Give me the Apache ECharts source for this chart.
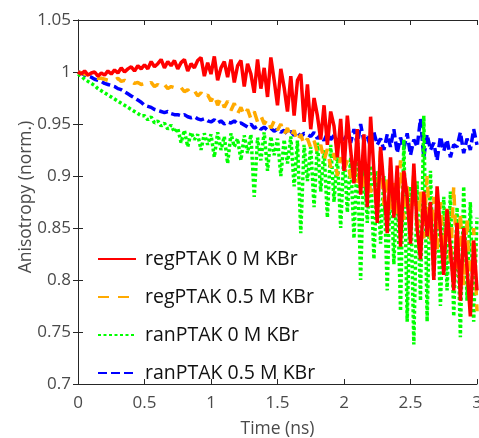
<!DOCTYPE html>
<html>
<head>
<meta charset="utf-8">
<script src="https://cdn.jsdelivr.net/npm/echarts@6/dist/echarts.min.js"></script>
<style>
html,body{margin:0;padding:0;background:#fff;}
#chart{width:479px;height:438px;}
</style>
</head>
<body>
<div id="chart"></div>
<script>
// Time axis (ns)
const time = [
0.000,0.025,0.050,0.075,0.100,0.125,0.150,0.175,0.200,0.225,
0.250,0.275,0.300,0.325,0.350,0.375,0.400,0.425,0.450,0.475,
0.500,0.525,0.550,0.575,0.600,0.625,0.650,0.675,0.700,0.725,
0.750,0.775,0.800,0.825,0.850,0.875,0.900,0.925,0.950,0.975,
1.000,1.025,1.050,1.075,1.100,1.125,1.150,1.175,1.200,1.225,
1.250,1.275,1.300,1.325,1.350,1.375,1.400,1.425,1.450,1.475,
1.500,1.525,1.550,1.575,1.600,1.625,1.650,1.675,1.700,1.725,
1.750,1.775,1.800,1.825,1.850,1.875,1.900,1.925,1.950,1.975,
2.000,2.025,2.050,2.075,2.100,2.125,2.150,2.175,2.200,2.225,
2.250,2.275,2.300,2.325,2.350,2.375,2.400,2.425,2.450,2.475,
2.500,2.525,2.550,2.575,2.600,2.625,2.650,2.675,2.700,2.725,
2.750,2.775,2.800,2.825,2.850,2.875,2.900,2.925,2.950,2.975,
3.000];

// regPTAK 0 M KBr
const regPTAK_0M = [
1.000,0.998,1.001,0.997,0.999,1.000,0.996,0.999,0.997,1.001,
0.998,1.002,0.999,1.004,1.000,1.003,1.005,1.001,1.006,1.003,
1.007,1.003,1.010,1.005,1.008,1.012,1.004,1.010,1.006,1.011,
1.003,1.009,1.012,1.001,1.008,1.004,1.011,1.014,0.996,1.009,
0.998,1.015,0.992,1.004,1.010,0.995,1.012,0.990,1.006,1.011,
0.986,1.008,0.998,0.980,1.012,0.984,1.004,0.976,1.014,0.992,
0.968,1.003,0.985,0.962,0.996,0.958,0.992,0.998,0.952,0.988,
0.945,0.975,0.958,0.935,0.968,0.930,0.962,0.948,0.918,0.955,
0.905,0.958,0.925,0.893,0.945,0.882,0.940,0.870,0.957,0.905,
0.855,0.928,0.890,0.845,0.918,0.860,0.910,0.832,0.905,0.880,
0.835,0.912,0.850,0.820,0.885,0.842,0.875,0.800,0.890,0.848,
0.805,0.868,0.830,0.790,0.855,0.780,0.850,0.812,0.765,0.838,
0.790];

// regPTAK 0.5 M KBr
const regPTAK_05M = [
1.000,0.999,0.998,0.997,0.996,0.995,0.994,0.994,0.993,0.992,
0.993,0.992,0.994,0.991,0.992,0.990,0.991,0.989,0.990,0.988,
0.989,0.987,0.990,0.986,0.988,0.985,0.988,0.984,0.986,0.985,
0.983,0.985,0.981,0.983,0.979,0.982,0.977,0.980,0.975,0.978,
0.972,0.978,0.968,0.975,0.966,0.972,0.963,0.970,0.960,0.966,
0.958,0.964,0.955,0.962,0.952,0.958,0.950,0.955,0.946,0.953,
0.944,0.950,0.940,0.946,0.937,0.944,0.933,0.940,0.930,0.936,
0.927,0.934,0.922,0.930,0.915,0.926,0.908,0.922,0.900,0.918,
0.905,0.915,0.898,0.910,0.893,0.906,0.888,0.912,0.884,0.900,
0.880,0.925,0.872,0.900,0.868,0.895,0.862,0.915,0.858,0.890,
0.852,0.905,0.845,0.885,0.840,0.900,0.835,0.880,0.828,0.875,
0.822,0.872,0.815,0.890,0.808,0.865,0.795,0.860,0.775,0.850,
0.770];

// ranPTAK 0 M KBr
const ranPTAK_0M = [
0.998,0.996,0.993,0.991,0.989,0.987,0.984,0.982,0.980,0.978,
0.976,0.974,0.972,0.970,0.968,0.966,0.964,0.962,0.960,0.958,
0.958,0.954,0.957,0.951,0.953,0.948,0.951,0.945,0.949,0.942,
0.946,0.932,0.944,0.928,0.942,0.935,0.940,0.925,0.941,0.930,
0.940,0.918,0.942,0.925,0.938,0.912,0.941,0.928,0.936,0.915,
0.939,0.922,0.940,0.880,0.937,0.915,0.942,0.905,0.938,0.920,
0.936,0.900,0.935,0.912,0.938,0.890,0.934,0.845,0.930,0.895,
0.928,0.870,0.932,0.885,0.925,0.860,0.930,0.875,0.920,0.850,
0.925,0.865,0.918,0.840,0.922,0.800,0.915,0.855,0.910,0.820,
0.905,0.835,0.900,0.790,0.910,0.815,0.895,0.770,0.935,0.760,
0.890,0.738,0.895,0.780,0.958,0.760,0.905,0.800,0.880,0.775,
0.880,0.790,0.885,0.765,0.870,0.745,0.890,0.780,0.875,0.760,
0.860];

// ranPTAK 0.5 M KBr
const ranPTAK_05M = [
1.000,0.999,0.997,0.996,0.995,0.993,0.992,0.991,0.989,0.988,
0.987,0.986,0.984,0.983,0.981,0.979,0.977,0.975,0.973,0.971,
0.968,0.967,0.966,0.964,0.963,0.962,0.961,0.962,0.960,0.959,
0.959,0.958,0.959,0.957,0.956,0.957,0.955,0.954,0.955,0.953,
0.952,0.954,0.951,0.953,0.950,0.952,0.951,0.953,0.950,0.951,
0.949,0.947,0.950,0.946,0.948,0.945,0.947,0.944,0.946,0.943,
0.945,0.942,0.944,0.940,0.943,0.939,0.942,0.938,0.941,0.940,
0.938,0.942,0.936,0.940,0.934,0.941,0.935,0.939,0.933,0.938,
0.935,0.940,0.932,0.945,0.930,0.950,0.933,0.938,0.928,0.942,
0.930,0.936,0.925,0.940,0.928,0.945,0.922,0.937,0.926,0.941,
0.920,0.935,0.928,0.955,0.918,0.940,0.925,0.932,0.915,0.938,
0.924,0.935,0.918,0.930,0.928,0.942,0.922,0.936,0.925,0.945,
0.930];

const xTicks = [0, 0.5, 1, 1.5, 2, 2.5, 3];
const yTicks = [0.7, 0.75, 0.8, 0.85, 0.9, 0.95, 1, 1.05];

const seriesNames = ['regPTAK 0 M KBr','regPTAK 0.5 M KBr','ranPTAK 0 M KBr','ranPTAK 0.5 M KBr'];

function pairs(vals){ return vals.map((v,i)=>[time[i], v]); }

const FONT = '"Open Sans", "DejaVu Sans", sans-serif';
const AXC = '#262626';
const LABC = '#4a4a4a';

const chart = echarts.init(document.getElementById('chart'), null, {renderer:'canvas'});
chart.setOption({
  animation:false,
  backgroundColor:'#ffffff',
  grid:{left:78, right:2, top:20, bottom:54, containLabel:false, outerBoundsMode:'none'},
  legend:{
    orient:'vertical', left:92, top:244,
    itemWidth:38, itemHeight:14, itemGap:18,
    data:seriesNames,
    itemStyle:{opacity:0},
    textStyle:{fontFamily:FONT, fontSize:19.5, color:'#111', padding:[0,0,0,4], lineHeight:20},
    selectedMode:false
  },
  xAxis:[{
    type:'value', min:0, max:3, interval:0.5,
    name:'Time (ns)', nameLocation:'middle', nameGap:36, nameMoveOverlap:false,
    nameTextStyle:{fontFamily:FONT, fontSize:17.5, color:LABC},
    axisLine:{show:true, lineStyle:{color:AXC, width:1}},
    axisTick:{show:true, inside:true, length:5, lineStyle:{color:AXC}},
    axisLabel:{fontFamily:FONT, fontSize:17, color:LABC, margin:11,
      formatter:v=>String(v)},
    splitLine:{show:false}
  },{
    type:'value', min:0, max:3, interval:0.5, position:'top',
    axisLine:{show:true, lineStyle:{color:AXC, width:1}},
    axisTick:{show:true, inside:true, length:5, lineStyle:{color:AXC}},
    axisLabel:{show:false}, splitLine:{show:false}
  }],
  yAxis:[{
    type:'value', min:0.7, max:1.05, interval:0.05,
    name:'Anisotropy (norm.)', nameLocation:'middle', nameGap:43, nameMoveOverlap:false,
    nameTextStyle:{fontFamily:FONT, fontSize:17.5, color:LABC, padding:[0,0,0,10]},
    axisLine:{show:true, lineStyle:{color:AXC, width:1}},
    axisTick:{show:true, inside:true, length:5, lineStyle:{color:AXC}},
    axisLabel:{fontFamily:FONT, fontSize:17, color:LABC, margin:7,
      formatter:v=>String(parseFloat(v.toFixed(2)))},
    splitLine:{show:false}
  },{
    type:'value', min:0.7, max:1.05, interval:0.05, position:'right',
    axisLine:{show:true, lineStyle:{color:AXC, width:1}},
    axisTick:{show:true, inside:true, length:5, lineStyle:{color:AXC}},
    axisLabel:{show:false}, splitLine:{show:false}
  }],
  series:[
    {name:seriesNames[3], type:'line', data:pairs(ranPTAK_05M), showSymbol:false, symbol:'none',
      z:2, lineStyle:{color:'#0000ff', width:3.5, type:[9,4]}, itemStyle:{color:'#0000ff'}},
    {name:seriesNames[2], type:'line', data:pairs(ranPTAK_0M), showSymbol:false, symbol:'none',
      z:3, lineStyle:{color:'#00ff00', width:3.5, type:[3,2.5]}, itemStyle:{color:'#00ff00'}},
    {name:seriesNames[1], type:'line', data:pairs(regPTAK_05M), showSymbol:false, symbol:'none',
      z:4, lineStyle:{color:'#ffaa00', width:3.5, type:[11,9]}, itemStyle:{color:'#ffaa00'}},
    {name:seriesNames[0], type:'line', data:pairs(regPTAK_0M), showSymbol:false, symbol:'none',
      z:5, lineStyle:{color:'#ff0000', width:3.5, type:'solid'}, itemStyle:{color:'#ff0000'}}
  ]
});
</script>
</body>
</html>
